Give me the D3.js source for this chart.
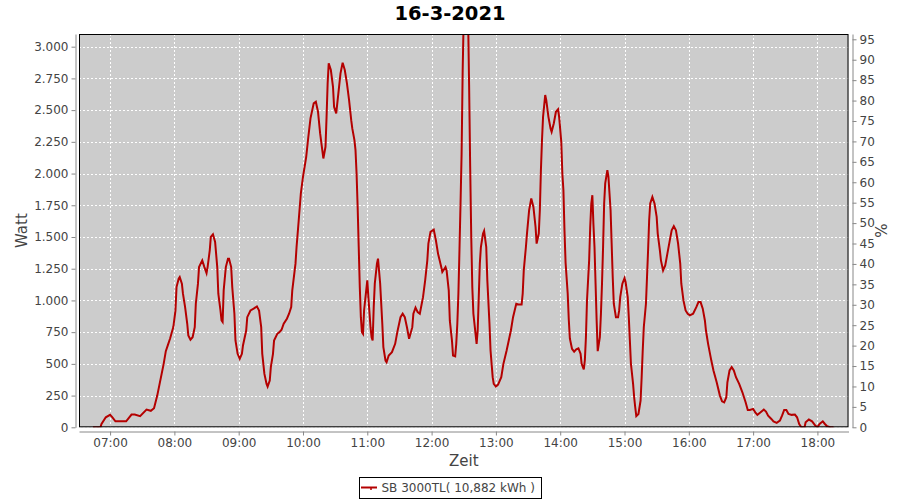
<!DOCTYPE html>
<html>
<head>
<meta charset="utf-8">
<script src="https://cdn.jsdelivr.net/npm/d3@7"></script>
<style>
  html, body { margin: 0; padding: 0; background: #fff; }
  svg { display: block; font-family: "DejaVu Sans", sans-serif; }
</style>
</head>
<body>
<svg id="chart" width="900" height="500"></svg>
<script>
// ---------- data ----------
const chartTitle = "16-3-2021";
const seriesName = "SB 3000TL( 10,882 kWh )";
const xLabel = "Zeit";
const yLabel = "Watt";
const y2Label = "%";

const times = [
 "06:44","06:51","06:52","06:56","07:00","07:02","07:05","07:15","07:20","07:23","07:28","07:34","07:38","07:41","07:44","07:50","07:52","07:54","07:56","07:59",
 "08:01","08:02","08:04","08:05","08:07","08:08","08:10","08:12","08:13","08:15","08:17","08:19","08:20","08:22","08:23","08:26","08:28","08:30","08:31","08:33",
 "08:34","08:36","08:38","08:40","08:41","08:43","08:44","08:45","08:46","08:48","08:50","08:51","08:53","08:54","08:56","08:57","08:59","09:01","09:03","09:04",
 "09:07","09:08","09:11","09:14","09:17","09:19","09:21","09:22","09:24","09:26","09:27","09:29","09:30","09:32","09:33","09:36","09:38","09:40","09:42","09:45",
 "09:47","09:49","09:50","09:53","09:54","09:56","09:58","10:00","10:03","10:05","10:07","10:10","10:12","10:14","10:16","10:18","10:19","10:21","10:22","10:23",
 "10:24","10:26","10:28","10:29","10:31","10:33","10:35","10:37","10:39","10:41","10:43","10:45","10:46","10:48","10:49","10:50","10:51","10:52","10:53","10:54",
 "10:55","10:56","10:57","10:59","11:00","11:01","11:03","11:04","11:05","11:06","11:07","11:09","11:10","11:12","11:14","11:15","11:17","11:18","11:20","11:23",
 "11:26","11:28","11:31","11:33","11:35","11:37","11:39","11:42","11:43","11:45","11:47","11:49","11:52","11:54","11:56","11:57","11:59","12:02","12:04","12:06",
 "12:09","12:10","12:13","12:14","12:16","12:17","12:19","12:20","12:22","12:23","12:24","12:25","12:26","12:27","12:28","12:29","12:30","12:34","12:35","12:36",
 "12:37","12:38","12:39","12:41","12:42","12:43","12:44","12:45","12:46","12:48","12:49","12:51","12:52","12:54","12:55","12:56","12:57","12:58","13:00","13:02",
 "13:05","13:07","13:10","13:12","13:14","13:16","13:19","13:21","13:24","13:25","13:26","13:28","13:29","13:31","13:33","13:35","13:37","13:38","13:40","13:41",
 "13:42","13:43","13:44","13:46","13:47","13:49","13:51","13:52","13:54","13:56","13:58","13:59","14:01","14:02","14:03","14:04","14:05","14:07","14:08","14:09",
 "14:11","14:13","14:15","14:17","14:19","14:20","14:22","14:23","14:24","14:25","14:27","14:28","14:29","14:30","14:31","14:32","14:33","14:34","14:35","14:37",
 "14:38","14:39","14:40","14:41","14:42","14:44","14:45","14:47","14:48","14:49","14:50","14:52","14:54","14:55","14:56","14:58","15:00","15:01","15:03","15:04",
 "15:05","15:06","15:08","15:09","15:10","15:11","15:13","15:15","15:16","15:17","15:18","15:20","15:21","15:22","15:23","15:24","15:26","15:28","15:30","15:31",
 "15:33","15:34","15:36","15:38","15:40","15:42","15:44","15:46","15:48","15:50","15:52","15:53","15:55","15:57","15:59","16:01","16:04","16:07","16:09","16:11",
 "16:13","16:15","16:16","16:18","16:21","16:23","16:26","16:29","16:31","16:33","16:35","16:36","16:38","16:40","16:42","16:44","16:47","16:50","16:53","16:55",
 "16:57","17:00","17:02","17:04","17:07","17:10","17:12","17:14","17:17","17:19","17:22","17:25","17:27","17:29","17:31","17:33","17:36","17:39","17:41","17:43",
 "17:45","17:48","17:49","17:52","17:55","17:58","18:00","18:02","18:05","18:07","18:09","18:12","18:15"
];
const watts = [
 0,0,26,79,98,80,47,47,100,100,88,140,130,150,250,500,600,650,700,790,
 920,1105,1171,1184,1132,1053,947,816,724,690,710,789,974,1132,1263,1316,1263,1216,1263,1395,
 1500,1521,1461,1263,1053,921,842,830,1079,1263,1329,1329,1263,1105,895,684,579,540,579,645,
 763,868,921,935,953,921,789,579,421,342,321,369,474,579,684,737,750,769,816,856,
 895,947,1079,1290,1421,1630,1843,1974,2132,2290,2435,2553,2566,2487,2316,2185,2119,2211,2447,2711,
 2869,2816,2684,2526,2474,2632,2790,2874,2816,2711,2579,2421,2356,2263,2185,2000,1737,1421,1105,868,
 750,737,921,1079,1158,1026,789,710,684,947,1132,1290,1329,1132,816,632,526,513,566,592,
 658,750,868,895,868,789,698,789,895,943,908,895,1026,1158,1316,1448,1540,1558,1474,1369,
 1263,1224,1263,1237,1079,842,684,566,560,658,816,1053,1395,1764,2158,2816,3250,3250,2700,2053,
 1500,1100,895,737,658,763,1026,1290,1421,1527,1548,1421,1158,816,605,500,395,342,321,337,
 395,500,605,684,763,868,974,968,968,1053,1237,1421,1527,1711,1803,1737,1579,1448,1527,1711,
 2027,2263,2447,2619,2579,2447,2356,2329,2395,2487,2506,2447,2250,2000,1869,1550,1300,1053,850,700,
 619,596,615,623,579,500,457,530,710,1000,1316,1579,1764,1829,1600,1421,1132,842,600,710,
 895,1132,1421,1764,1922,2027,1974,1711,1448,1184,974,868,868,921,1026,1132,1176,1145,1026,868,
 684,500,342,237,158,88,105,211,395,605,789,974,1184,1395,1632,1764,1816,1764,1658,1527,
 1395,1316,1237,1276,1369,1461,1553,1585,1553,1448,1290,1132,1000,921,895,882,895,947,987,987,
 935,842,763,658,526,448,355,250,205,197,237,355,448,474,448,395,342,276,197,137,
 137,145,118,98,118,140,124,92,66,47,35,53,92,137,137,105,98,100,79,26,
 0,0,40,61,47,13,0,26,47,26,8,0,0
];

const xDomain = ["06:31", "18:29"];
const hourTicks = ["07:00","08:00","09:00","10:00","11:00","12:00","13:00","14:00","15:00","16:00","17:00","18:00"];
const wattTicks = [0,250,500,750,1000,1250,1500,1750,2000,2250,2500,2750,3000];
const wattMax = 3100;
const pctTicks = [0,5,10,15,20,25,30,35,40,45,50,55,60,65,70,75,80,85,90,95];
const pctMax = 96.3;

// ---------- layout ----------
const plot = { left: 79, top: 34, right: 848.5, bottom: 427.3 };
const parseT = d3.timeParse("%H:%M");
const data = times.map((t, i) => ({ t: parseT(t), w: watts[i] }));

const x = d3.scaleTime().domain(xDomain.map(parseT)).range([plot.left, plot.right]);
const y = d3.scaleLinear().domain([0, wattMax]).range([plot.bottom, plot.top]);
const y2 = d3.scaleLinear().domain([0, pctMax]).range([plot.bottom, plot.top]);

const loc = d3.formatLocale({ decimal: ",", thousands: ".", grouping: [3], currency: ["", ""] });
const fmtW = loc.format(",d");

const svg = d3.select("#chart");
const textCol = "#444444";
const axisCol = "#888888";

// title
svg.append("text").attr("x", 450).attr("y", 19.5).attr("text-anchor", "middle")
  .attr("font-size", 19.5).attr("font-weight", "bold").attr("fill", "#000").text(chartTitle);

// plot background
svg.append("rect").attr("x", plot.left).attr("y", plot.top)
  .attr("width", plot.right - plot.left).attr("height", plot.bottom - plot.top)
  .attr("fill", "#cccccc");

// gridlines
const grid = svg.append("g").attr("stroke", "#ffffff").attr("stroke-width", 1).attr("stroke-dasharray", "2,2");
grid.selectAll("line.v").data(hourTicks.map(parseT)).join("line")
  .attr("x1", d => Math.round(x(d)) + 0.5).attr("x2", d => Math.round(x(d)) + 0.5)
  .attr("y1", plot.top).attr("y2", plot.bottom);
grid.selectAll("line.h").data(wattTicks).join("line")
  .attr("y1", d => Math.round(y(d)) + 0.5).attr("y2", d => Math.round(y(d)) + 0.5)
  .attr("x1", plot.left).attr("x2", plot.right);

// clip
svg.append("defs").append("clipPath").attr("id", "clip").append("rect")
  .attr("x", plot.left).attr("y", plot.top)
  .attr("width", plot.right - plot.left).attr("height", plot.bottom - plot.top);

// line
const line = d3.line().x(d => x(d.t)).y(d => y(d.w));
svg.append("path").datum(data).attr("clip-path", "url(#clip)")
  .attr("fill", "none").attr("stroke", "#b40000").attr("stroke-width", 2)
  .attr("stroke-linejoin", "miter").attr("d", line);

// plot border
svg.append("rect").attr("x", plot.left + 0.5).attr("y", plot.top + 0.5)
  .attr("width", plot.right - plot.left - 1).attr("height", plot.bottom - plot.top - 1)
  .attr("fill", "none").attr("stroke", "#000").attr("stroke-width", 1);

// axes
function styleAxis(g) {
  g.select(".domain").attr("stroke", axisCol);
  g.selectAll(".tick line").attr("stroke", axisCol);
  g.selectAll(".tick text").attr("fill", textCol).attr("font-size", 12)
    .attr("font-family", "DejaVu Sans, sans-serif");
}

const xAxis = d3.axisBottom(x).tickValues(hourTicks.map(parseT))
  .tickFormat(d3.timeFormat("%H:%M")).tickSize(4).tickSizeOuter(0).tickPadding(3);
svg.append("g").attr("transform", "translate(0,431.5)").call(xAxis).call(styleAxis);

const yAxis = d3.axisLeft(y).tickValues(wattTicks).tickFormat(fmtW)
  .tickSize(4).tickSizeOuter(0).tickPadding(3);
svg.append("g").attr("transform", "translate(75.5,0)").call(yAxis).call(styleAxis);

const y2Axis = d3.axisRight(y2).tickValues(pctTicks).tickFormat(d3.format("d"))
  .tickSize(4).tickSizeOuter(0).tickPadding(3);
svg.append("g").attr("transform", "translate(852.5,0)").call(y2Axis).call(styleAxis);

// axis labels
const midY = (plot.top + plot.bottom) / 2;
svg.append("text").attr("x", (plot.left + plot.right) / 2).attr("y", 466)
  .attr("text-anchor", "middle").attr("font-size", 15).attr("fill", textCol).text(xLabel);
svg.append("text").attr("transform", `translate(26.5,${midY}) rotate(-90)`)
  .attr("text-anchor", "middle").attr("font-size", 15).attr("fill", textCol).text(yLabel);
svg.append("text").attr("transform", `translate(887,${midY}) rotate(-90)`)
  .attr("text-anchor", "middle").attr("font-size", 15).attr("fill", textCol).text(y2Label);

// legend
const lg = svg.append("g");
const legText = lg.append("text").attr("x", 381.5).attr("y", 492)
  .attr("font-size", 12).attr("fill", textCol).text(seriesName);
const tw = legText.node().getComputedTextLength();
const boxL = 359.5, boxR = Math.max(541.5, 381.5 + tw + 4);
lg.insert("rect", "text").attr("x", boxL).attr("y", 477.5).attr("width", boxR - boxL).attr("height", 21)
  .attr("fill", "#fff").attr("stroke", "#000").attr("stroke-width", 1);
lg.append("line").attr("x1", 361).attr("x2", 377).attr("y1", 487.5).attr("y2", 487.5)
  .attr("stroke", "#b40000").attr("stroke-width", 2);
lg.append("line").attr("x1", 371).attr("x2", 371).attr("y1", 488).attr("y2", 490)
  .attr("stroke", "#b40000").attr("stroke-width", 1.5);
</script>
</body>
</html>
